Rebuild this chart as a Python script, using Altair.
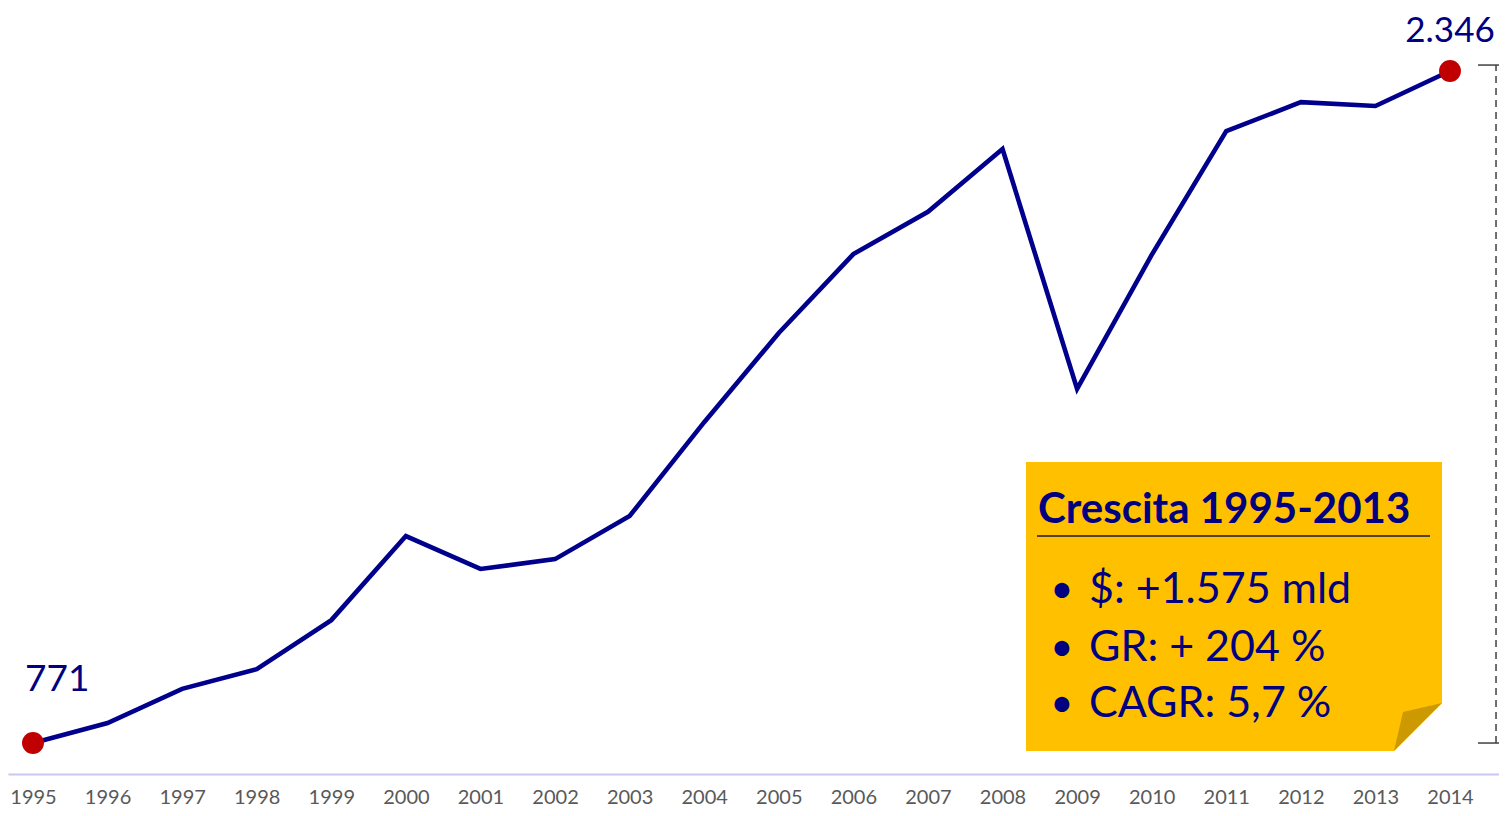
import altair as alt
import pandas as pd

# ---- data ----
years = list(range(1995, 2015))
values = [771, 818, 898, 944, 1059, 1256, 1179, 1202, 1303, 1523,
          1732, 1917, 2016, 2163, 1601, 1915, 2205, 2273, 2264, 2346]

end_years = [1995, 2014]
end_values = [771, 2346]
end_labels = ["771", "2.346"]

box_title = "Crescita 1995-2013"
box_items = ["$: +1.575 mld", "GR: + 204 %", "CAGR: 5,7 %"]

# callout box outline in data units (year, value)
box_x = [2008.315, 2013.249, 2013.893]
box_top = [1429.6, 1429.6, 1429.6]
box_bottom = [752.3, 752.3, 864.8]
fold_x = [2013.249, 2013.370, 2013.893]
fold_upper = [752.3, 843.7, 864.8]
fold_lower = [752.3, 773.4, 864.8]

title_pos = (2008.476, 1286.7)
underline_x = (2008.462, 2013.732)
underline_y = 1256.2
bullet_x = 2008.797
item_x = 2009.160
item_y = [1099.2, 963.2, 832.0]

bracket_x = 2014.617
bracket_tick_x = (2014.375, 2014.657)
bracket_y = (771, 2360)

X_DOMAIN = [1994.665, 2014.657]
Y_DOMAIN = [698.4, 2493.7]

NAVY = "#00008C"
TEXT_NAVY = "#000080"
FONT = "Lato"

xs = alt.Scale(domain=X_DOMAIN, nice=False, zero=False)
ys = alt.Scale(domain=Y_DOMAIN, nice=False, zero=False)
X = alt.X("year:Q", scale=xs,
          axis=alt.Axis(values=years, format="d", title=None, ticks=False,
                        grid=False, labelFlush=False))
Y = alt.Y("value:Q", scale=ys, axis=None)

df = pd.DataFrame({"year": years, "value": values})
df_end = pd.DataFrame({"year": end_years, "value": end_values, "label": end_labels})
df_box = pd.DataFrame({"year": box_x, "value": box_top, "value2": box_bottom})
df_fold = pd.DataFrame({"year": fold_x, "value": fold_upper, "value2": fold_lower})
df_title = pd.DataFrame({"year": [title_pos[0]], "value": [title_pos[1]], "label": [box_title]})
df_ul = pd.DataFrame({"year": [underline_x[0]], "year2": [underline_x[1]], "value": [underline_y]})
df_items = pd.DataFrame({"year": [item_x] * 3, "value": item_y, "label": box_items})
df_bul = pd.DataFrame({"year": [bullet_x] * 3, "value": item_y, "label": ["•"] * 3})
df_brv = pd.DataFrame({"year": [bracket_x], "value": [bracket_y[0]], "value2": [bracket_y[1]]})
df_brh = pd.DataFrame({"year": [bracket_tick_x[0]] * 2, "year2": [bracket_tick_x[1]] * 2,
                       "value": list(bracket_y)})

box = alt.Chart(df_box).mark_area(color="#FFC000", opacity=1).encode(
    x=X, y=Y, y2=alt.Y2("value2:Q"))
fold = alt.Chart(df_fold).mark_area(color="#CC9900", opacity=1).encode(
    x=X, y=Y, y2=alt.Y2("value2:Q"))
title = alt.Chart(df_title).mark_text(
    align="left", baseline="alphabetic", font=FONT, fontSize=42, fontWeight="bold",
    color=TEXT_NAVY).encode(x=X, y=Y, text="label:N")
ul = alt.Chart(df_ul).mark_rule(color="#1A1A40", strokeWidth=1.5).encode(
    x=X, x2=alt.X2("year2:Q"), y=Y)
items = alt.Chart(df_items).mark_text(
    align="left", baseline="alphabetic", font=FONT, fontSize=43,
    color=TEXT_NAVY).encode(x=X, y=Y, text="label:N")
bullets = alt.Chart(df_bul).mark_text(
    align="center", baseline="alphabetic", font=FONT, fontSize=40,
    color=TEXT_NAVY).encode(x=X, y=Y, text="label:N")

brv = alt.Chart(df_brv).mark_rule(color="#404040", strokeWidth=1.5, strokeDash=[7, 5]).encode(
    x=X, y=Y, y2=alt.Y2("value2:Q"))
brh = alt.Chart(df_brh).mark_rule(color="#404040", strokeWidth=1.5).encode(
    x=X, x2=alt.X2("year2:Q"), y=Y)

line = alt.Chart(df).mark_line(color=NAVY, strokeWidth=4.6, strokeJoin="miter").encode(x=X, y=Y)
dots = alt.Chart(df_end).mark_point(filled=True, color="#C00000", size=480, opacity=1).encode(x=X, y=Y)
lab1 = alt.Chart(df_end[df_end.year == 1995]).mark_text(
    align="left", baseline="alphabetic", dx=-8, dy=-52, font=FONT, fontSize=37,
    color=TEXT_NAVY).encode(x=X, y=Y, text="label:N")
lab2 = alt.Chart(df_end[df_end.year == 2014]).mark_text(
    align="center", baseline="alphabetic", dx=0, dy=-29, font=FONT, fontSize=35,
    color=TEXT_NAVY).encode(x=X, y=Y, text="label:N")

chart = alt.layer(box, fold, title, ul, items, bullets, brv, brh, line, dots, lab1, lab2).properties(
    width=1491, height=766,
    autosize=alt.AutoSizeParams(type="none"),
    padding={"left": 0, "right": 0, "top": 0, "bottom": 34},
).configure_view(stroke=None).configure_axis(
    domainColor="#C8C8F2", domainWidth=2, labelFont=FONT, labelFontSize=20,
    labelColor="#595959", labelPadding=13,
)

chart.save("out.html", embed_options={"renderer": "svg", "actions": False})
